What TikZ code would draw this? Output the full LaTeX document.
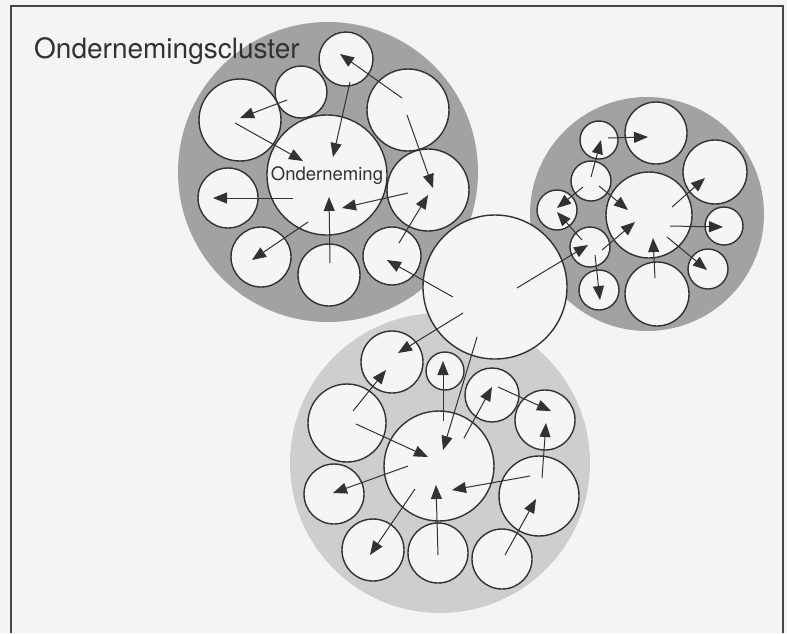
\documentclass[tikz,border=0pt]{standalone}
\usepackage{fontspec}
\setmainfont{TeX Gyre Heros}
\usetikzlibrary{arrows.meta}
\definecolor{bgc}{RGB}{244,244,244}
\definecolor{cfill}{RGB}{245,245,245}
\definecolor{darkg}{RGB}{162,162,162}
\definecolor{lightg}{RGB}{206,206,206}
\definecolor{ink}{RGB}{50,50,50}
\tikzset{
  cc/.style={circle, draw=ink, line width=1.4pt, fill=cfill, inner sep=0pt},
  grayzone/.style={circle, fill=#1, draw=none, inner sep=0pt},
  arr/.style={draw=ink, line width=1pt, -{Triangle[length=14pt,width=11pt]}},
  frame/.style={draw=ink!90, line width=1.2pt},
}
\newcommand{\cnode}[4]{\node[cc, minimum size=#4*2pt] (#1) at (#2,#3) {};}
\begin{document}
\begin{tikzpicture}[x=1pt,y=-1pt]
\useasboundingbox (0,0) rectangle (787,633);
\fill[bgc] (0,0) rectangle (787,633);
\coordinate (fbl) at (11,633);
\coordinate (ftl) at (11,6);
\coordinate (ftr) at (783,6);
\coordinate (fbr) at (783,633);
\draw[frame] (fbl) -- (ftl) -- (ftr) -- (fbr);
% gray zones
\node[grayzone=lightg, minimum size=300pt] (g3) at (440,463) {};
\node[grayzone=darkg, minimum size=300pt] (g1) at (328,172) {};
\node[grayzone=darkg, minimum size=234pt] (g2) at (647,214) {};
% title
\node[anchor=base west, inner sep=0pt, text=ink, font=\fontsize{28}{30}\selectfont] (title) at (34,58) {Ondernemingscluster};
% big central circle
\cnode{B}{495}{287}{72}
% cluster 1
\cnode{o1}{327}{175}{60}
\cnode{a1}{346}{59}{27}
\cnode{a2}{301}{92}{26}
\cnode{a3}{240}{120}{41}
\cnode{a4}{408}{110}{41}
\cnode{a5}{428}{190}{41}
\cnode{a6}{228}{198}{30}
\cnode{a7}{261}{257}{30}
\cnode{a8}{329}{275}{31}
\cnode{a9}{392}{256}{29}
\node[inner sep=0pt, text=ink, font=\fontsize{18.5}{20}\selectfont] (lab) at (327,176) {Onderneming};
% cluster 2
\cnode{o2}{649}{215}{43}
\cnode{b1}{599}{140}{19}
\cnode{b2}{656}{133}{31}
\cnode{b3}{715}{172}{32}
\cnode{b4}{724}{226}{19}
\cnode{b5}{708}{269}{20}
\cnode{b6}{657}{294}{32}
\cnode{b7}{599}{290}{20}
\cnode{b8}{590}{247}{20}
\cnode{b9}{557}{210}{20}
\cnode{b10}{591}{181}{20}
% cluster 3
\cnode{o3}{439}{466}{55}
\cnode{d1}{392}{362}{31}
\cnode{d2}{445}{371}{19}
\cnode{d3}{492}{395}{27}
\cnode{d4}{545}{420}{30}
\cnode{d5}{347}{423}{39}
\cnode{d6}{334}{494}{30}
\cnode{d7}{539}{496}{40}
\cnode{d8}{373}{550}{31}
\cnode{d9}{438}{553}{30}
\cnode{d10}{502}{559}{30}
% arrows cluster 1
\draw[arr] ([shift={(-6,-12)}]a4.center) -- ([shift={(-6,-5)}]a1.center);
\draw[arr] ([shift={(4,23)}]a1.center) -- ([shift={(6,-18)}]o1.center);
\draw[arr] ([shift={(-14,8)}]a2.center) -- ([shift={(0,-2)}]a3.center);
\draw[arr] ([shift={(-5,3)}]a3.center) -- ([shift={(-24,-14)}]o1.center);
\draw[arr] ([shift={(-1,5)}]a4.center) -- ([shift={(5,-2)}]a5.center);
\draw[arr] ([shift={(-34,23)}]o1.center) -- ([shift={(-15,0)}]a6.center);
\draw[arr] ([shift={(-20,3)}]a5.center) -- ([shift={(15,33)}]o1.center);
\draw[arr] ([shift={(7,-13)}]a9.center) -- ([shift={(0,5)}]a5.center);
\draw[arr] ([shift={(-19,47)}]o1.center) -- ([shift={(-9,3)}]a7.center);
\draw[arr] ([shift={(1,-12)}]a8.center) -- ([shift={(2,22)}]o1.center);
\draw[arr] ([shift={(-42,10)}]B.center) -- ([shift={(-5,4)}]a9.center);
% arrows cluster 2
\draw[arr] ([shift={(9,-2)}]b1.center) -- ([shift={(-8,4)}]b2.center);
\draw[arr] ([shift={(0,-4)}]b10.center) -- ([shift={(2,0)}]b1.center);
\draw[arr] ([shift={(-8,6)}]b10.center) -- ([shift={(0,-2)}]b9.center);
\draw[arr] ([shift={(8,5)}]b10.center) -- ([shift={(-21,-5)}]o2.center);
\draw[arr] ([shift={(-8,-7)}]b8.center) -- ([shift={(0,2)}]b9.center);
\draw[arr] ([shift={(12,3)}]b8.center) -- ([shift={(-14,7)}]o2.center);
\draw[arr] ([shift={(5,8)}]b8.center) -- ([shift={(1,10)}]b7.center);
\draw[arr] ([shift={(23,-8)}]o2.center) -- ([shift={(-10,6)}]b3.center);
\draw[arr] ([shift={(21,11)}]o2.center) -- ([shift={(-1,1)}]b4.center);
\draw[arr] ([shift={(18,22)}]o2.center) -- ([shift={(-1,1)}]b5.center);
\draw[arr] ([shift={(-2,-16)}]b6.center) -- ([shift={(4,23)}]o2.center);
\draw[arr] ([shift={(22,1)}]B.center) -- ([shift={(-2,-2)}]b8.center);
% arrows cluster 3
\draw[arr] ([shift={(-32,26)}]B.center) -- ([shift={(6,-9)}]d1.center);
\draw[arr] ([shift={(-18,50)}]B.center) -- ([shift={(4,-16)}]o3.center);
\draw[arr] ([shift={(6,-12)}]d5.center) -- ([shift={(-6,8)}]d1.center);
\draw[arr] ([shift={(4,-45)}]o3.center) -- ([shift={(-2,-10)}]d2.center);
\draw[arr] ([shift={(25,-28)}]o3.center) -- ([shift={(0,-8)}]d3.center);
\draw[arr] ([shift={(6,-8)}]d3.center) -- ([shift={(6,-9)}]d4.center);
\draw[arr] ([shift={(3,-18)}]d7.center) -- ([shift={(1,3)}]d4.center);
\draw[arr] ([shift={(9,1)}]d5.center) -- ([shift={(-11,-9)}]o3.center);
\draw[arr] ([shift={(-31,0)}]o3.center) -- ([shift={(-1,-1)}]d6.center);
\draw[arr] ([shift={(-9,-20)}]d7.center) -- ([shift={(13,24)}]o3.center);
\draw[arr] ([shift={(-24,23)}]o3.center) -- ([shift={(-3,5)}]d8.center);
\draw[arr] ([shift={(0,2)}]d9.center) -- ([shift={(-3,19)}]o3.center);
\draw[arr] ([shift={(3,-4)}]d10.center) -- ([shift={(-3,3)}]d7.center);
\end{tikzpicture}
\end{document}
